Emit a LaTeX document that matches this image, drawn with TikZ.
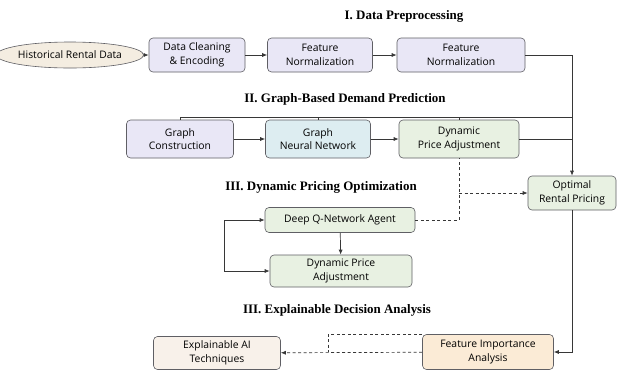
\documentclass[tikz,border=0pt]{standalone}
\usepackage{fontspec}
\setmainfont{Open Sans}
\newfontfamily\headfont{Liberation Serif}
\usetikzlibrary{arrows.meta,shapes.geometric}
\definecolor{linecolor}{RGB}{55, 55, 55}
\definecolor{edgecolor}{RGB}{95, 95, 100}
\definecolor{sandcolor}{RGB}{244, 237, 225}
\definecolor{lavendercolor}{RGB}{233, 231, 246}
\definecolor{icecolor}{RGB}{221, 237, 241}
\definecolor{sagecolor}{RGB}{232, 241, 226}
\definecolor{peachcolor}{RGB}{251, 235, 214}
\definecolor{creamcolor}{RGB}{248, 241, 234}

\begin{document}
\begin{tikzpicture}[x=1bp, y=-1bp,
        box/.style={draw=edgecolor, rounded corners=4bp, align=center, inner sep=1bp,
                font=\fontsize{10.4}{13.5}\selectfont, line width=0.6bp},
        heading/.style={font=\headfont\bfseries\fontsize{13}{15}\selectfont},
        flow/.style={draw=linecolor, line width=0.7bp, -{Latex[length=5bp,width=4bp]}},
        wire/.style={draw=linecolor, line width=0.7bp},
        hint/.style={draw=linecolor, line width=0.7bp, dashed, dash pattern=on 3bp off 2.5bp}]
        \useasboundingbox[fill=white] (0, 0) rectangle (617, 371);
        % Headings {{{
        \node[heading] (h1) at (404, 16) {I. Data Preprocessing};
        \node[heading] (h2) at (345, 99) {II. Graph-Based Demand Prediction};
        \node[heading] (h3) at (321, 187) {III. Dynamic Pricing Optimization};
        \node[heading] (h4) at (337, 310) {III. Explainable Decision Analysis};
        % }}}
        % Preprocessing row {{{
        \node[box, ellipse, fill=sandcolor, minimum width=124bp, minimum height=26bp, inner sep=0pt] (raw) at (70, 55) {Historical Rental Data};
        \node[box, fill=lavendercolor, minimum width=96bp, minimum height=34bp] (clean) at (197, 55) {Data Cleaning\\\& Encoding};
        \node[box, fill=lavendercolor, minimum width=105bp, minimum height=34bp] (norma) at (320, 55) {Feature\\Normalization};
        \node[box, fill=lavendercolor, minimum width=128bp, minimum height=34bp] (normb) at (461, 55) {Feature\\Normalization};
        \draw[flow] (raw) -- (clean);
        \draw[flow] (clean) -- (norma);
        \draw[flow] (norma) -- (normb);
        % }}}
        % Graph row {{{
        \node[box, fill=lavendercolor, minimum width=107bp, minimum height=38bp] (build) at (180, 139) {Graph\\Construction};
        \node[box, fill=icecolor, minimum width=105bp, minimum height=38bp] (gnn) at (318, 139) {Graph\\Neural Network};
        \node[box, fill=sagecolor, minimum width=120bp, minimum height=38bp] (adjust) at (459, 139) {Dynamic\\Price Adjustment};
        \node[box, fill=sagecolor, minimum width=88bp, minimum height=34bp] (price) at (572, 193) {Optimal\\Rental Pricing};
        \coordinate (bus) at (573, 117);
        \coordinate (tap) at (573, 139);
        \draw[flow] (build) -- (gnn);
        \draw[flow] (gnn) -- (adjust);
        \draw[wire] (build.north) |- (bus) (gnn.north) -- (gnn.north |- bus) (adjust.north) -- (adjust.north |- bus);
        \draw[wire] (adjust) -- (tap);
        \draw[flow] (normb) -| (price);
        % }}}
        % Pricing loop {{{
        \node[box, fill=sagecolor, minimum width=150bp, minimum height=25bp] (agent) at (340, 220) {Deep Q-Network Agent};
        \node[box, fill=sagecolor, minimum width=142bp, minimum height=32bp] (act) at (341, 271) {Dynamic Price\\Adjustment};
        \coordinate (loop) at (224, 246);
        \draw[flow] (agent) -- (act);
        \draw[flow] (loop) |- (agent);
        \draw[flow] (loop) |- (act);
        \draw[hint] (agent) -| (adjust);
        \draw[hint, -{Latex[length=5bp,width=4bp]}] (adjust.south |- price) -- (price);
        % }}}
        % Explanation row {{{
        \node[box, fill=peachcolor, minimum width=131bp, minimum height=35bp] (weigh) at (488, 352) {Feature Importance\\Analysis};
        \node[box, fill=creamcolor, minimum width=127bp, minimum height=33bp] (xai) at (217, 353) {Explainable AI\\Techniques};
        \draw[flow] (price) |- (weigh);
        \draw[hint, -{Latex[length=5bp,width=4bp]}] (weigh) -- (xai);
        \draw[hint] (weigh.north west) -| (328, 352);
        % }}}
\end{tikzpicture}
\end{document}
